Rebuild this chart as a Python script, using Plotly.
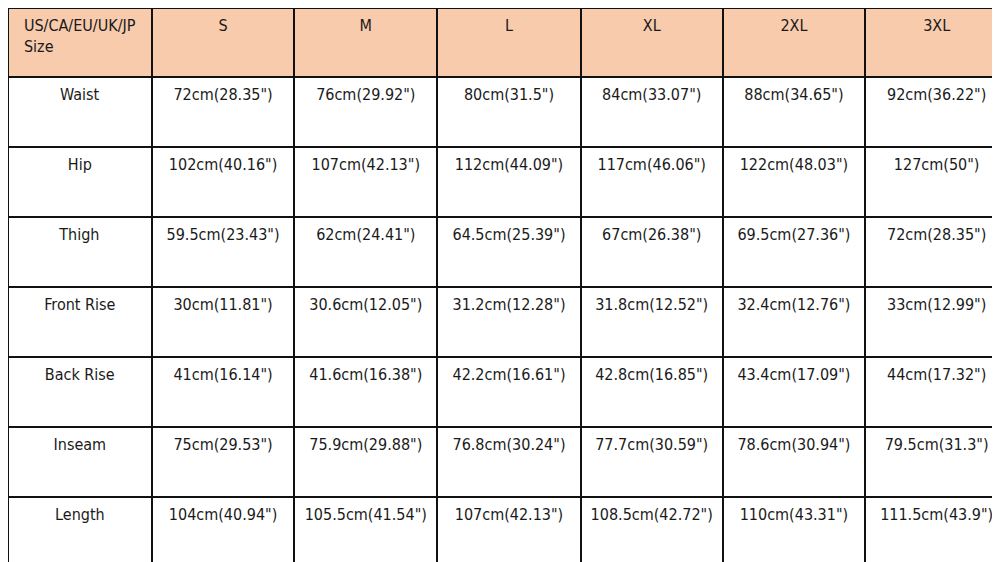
import plotly.graph_objects as go

header = ["US/CA/EU/UK/JP<br>Size", "S", "M", "L", "XL", "2XL", "3XL"]
measures = ["Waist", "Hip", "Thigh", "Front Rise", "Back Rise", "Inseam", "Length"]
S = ['72cm(28.35")', '102cm(40.16")', '59.5cm(23.43")', '30cm(11.81")', '41cm(16.14")', '75cm(29.53")', '104cm(40.94")']
M = ['76cm(29.92")', '107cm(42.13")', '62cm(24.41")', '30.6cm(12.05")', '41.6cm(16.38")', '75.9cm(29.88")', '105.5cm(41.54")']
L = ['80cm(31.5")', '112cm(44.09")', '64.5cm(25.39")', '31.2cm(12.28")', '42.2cm(16.61")', '76.8cm(30.24")', '107cm(42.13")']
XL = ['84cm(33.07")', '117cm(46.06")', '67cm(26.38")', '31.8cm(12.52")', '42.8cm(16.85")', '77.7cm(30.59")', '108.5cm(42.72")']
XXL = ['88cm(34.65")', '122cm(48.03")', '69.5cm(27.36")', '32.4cm(12.76")', '43.4cm(17.09")', '78.6cm(30.94")', '110cm(43.31")']
XXXL = ['92cm(36.22")', '127cm(50")', '72cm(28.35")', '33cm(12.99")', '44cm(17.32")', '79.5cm(31.3")', '111.5cm(43.9")']

def vcenter(col):
    return ["<br>" + v if "<br>" not in v else v for v in col]

font = dict(family="DejaVu Sans Condensed, DejaVu Sans", size=16, color="#1a1a1a")
fig = go.Figure(go.Table(
    domain=dict(x=[0, 1], y=[0, 1]),
    columnwidth=[143, 142, 142, 143, 141, 142, 142],
    header=dict(values=vcenter(header), fill_color="#F8CBAD", line=dict(color="#111", width=2),
                align="center", height=69, font=font),
    cells=dict(values=[vcenter(c) for c in [measures, S, M, L, XL, XXL, XXXL]], fill_color="white",
               line=dict(color="#111", width=2), align="center", height=70, font=font),
))
fig.update_layout(width=1000, height=562, margin=dict(l=0, r=0, t=0, b=0),
                  paper_bgcolor="white")
fig.write_html("out.html")
